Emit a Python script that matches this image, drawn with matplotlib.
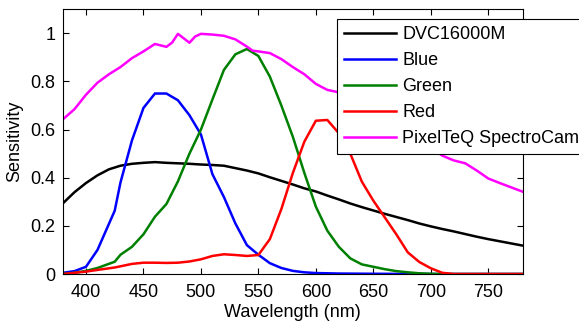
import matplotlib
matplotlib.use("Agg")
import matplotlib.pyplot as plt
import matplotlib.ticker as mticker

plt.rcParams["font.family"] = ["Liberation Sans", "DejaVu Sans"]

# DVC16000M (mono camera)
dvc_nm = [380, 390, 400, 410, 420, 430, 440, 450, 460, 470, 480, 490, 500, 510,
          520, 530, 540, 550, 560, 570, 580, 590, 600, 610, 620, 630, 640, 650,
          660, 670, 680, 690, 700, 710, 720, 730, 740, 750, 760, 770, 780]
dvc_val = [0.294, 0.34, 0.378, 0.41, 0.435, 0.45, 0.458, 0.462, 0.465, 0.462, 0.46,
           0.458, 0.455, 0.453, 0.45, 0.44, 0.43, 0.418, 0.402, 0.387, 0.372, 0.356,
           0.343, 0.326, 0.31, 0.293, 0.278, 0.264, 0.25, 0.237, 0.224, 0.21, 0.198,
           0.187, 0.177, 0.166, 0.155, 0.145, 0.136, 0.127, 0.118]

blue_nm = [380, 390, 400, 410, 425, 430, 440, 450, 460, 470, 480, 490, 500, 510,
           520, 530, 540, 550, 560, 570, 580, 590, 600, 620, 650, 700, 780]
blue_val = [0.005, 0.012, 0.03, 0.1, 0.263, 0.38, 0.555, 0.69, 0.75, 0.75, 0.722,
            0.66, 0.58, 0.415, 0.32, 0.21, 0.12, 0.08, 0.045, 0.025, 0.013, 0.007,
            0.004, 0.002, 0.001, 0.0, 0.0]

green_nm = [380, 390, 400, 410, 425, 430, 440, 450, 460, 470, 480, 490, 500, 510,
            520, 530, 540, 550, 560, 570, 580, 590, 600, 610, 620, 630, 640, 650,
            660, 670, 680, 690, 700, 710, 780]
green_val = [0.0, 0.005, 0.013, 0.025, 0.051, 0.08, 0.113, 0.165, 0.238, 0.291, 0.385,
             0.5, 0.6, 0.725, 0.848, 0.913, 0.935, 0.906, 0.82, 0.7, 0.57, 0.42, 0.28,
             0.18, 0.113, 0.065, 0.04, 0.03, 0.02, 0.012, 0.007, 0.003, 0.001, 0.0, 0.0]

red_nm = [380, 390, 400, 410, 425, 440, 450, 460, 470, 480, 490, 500, 510, 520,
          530, 540, 550, 560, 570, 580, 590, 600, 610, 620, 630, 640, 650, 660,
          670, 680, 690, 700, 710, 720, 780]
red_val = [0.0, 0.005, 0.01, 0.017, 0.027, 0.042, 0.047, 0.047, 0.046, 0.047, 0.052,
           0.061, 0.075, 0.082, 0.079, 0.075, 0.079, 0.145, 0.27, 0.42, 0.55, 0.637,
           0.64, 0.585, 0.5, 0.384, 0.305, 0.235, 0.165, 0.09, 0.05, 0.024, 0.005, 0.0, 0.0]

pixelteq_nm = [380, 390, 400, 410, 420, 430, 440, 450, 460, 470, 475, 480, 490,
               495, 500, 510, 520, 530, 540, 545, 550, 560, 570, 580, 590, 600,
               610, 620, 630, 640, 650, 660, 670, 680, 690, 700, 710, 720, 730,
               740, 750, 760, 770, 780]
pixelteq_val = [0.643, 0.685, 0.745, 0.795, 0.83, 0.86, 0.897, 0.925, 0.956, 0.944,
                0.962, 0.998, 0.961, 0.987, 0.998, 0.995, 0.99, 0.975, 0.945, 0.928,
                0.925, 0.918, 0.893, 0.86, 0.83, 0.79, 0.765, 0.755, 0.73, 0.70, 0.67,
                0.64, 0.61, 0.58, 0.555, 0.525, 0.492, 0.472, 0.46, 0.43, 0.397, 0.378,
                0.36, 0.342]

series = [
    ("DVC16000M", dvc_nm, dvc_val, "black"),
    ("Blue", blue_nm, blue_val, (0, 0, 1)),
    ("Green", green_nm, green_val, (0, 0.5, 0)),
    ("Red", red_nm, red_val, (1, 0, 0)),
    ("PixelTeQ SpectroCam", pixelteq_nm, pixelteq_val, (1, 0, 1)),
]

FS = 13

fig = plt.figure(figsize=(5.79, 3.24), dpi=100)
ax = fig.add_axes([0.1088, 0.1543, 0.794, 0.817])

for label, x, y, color in series:
    ax.plot(x, y, color=color, linewidth=1.8, label=label)

ax.set_xlim(380, 780)
ax.set_ylim(0, 1.1)
ax.set_xticks(range(400, 751, 50))
ax.set_yticks([0, 0.2, 0.4, 0.6, 0.8, 1.0])
ax.yaxis.set_major_formatter(mticker.FormatStrFormatter("%g"))
ax.tick_params(direction="in", top=True, right=True, labelsize=FS,
               length=4, width=0.8)
ax.tick_params(axis="x", pad=7)
ax.tick_params(axis="y", pad=5.5)
for s in ax.spines.values():
    s.set_linewidth(0.8)

ax.set_xlabel("Wavelength (nm)", fontsize=FS, labelpad=2.5)
ax.set_ylabel("Sensitivity", fontsize=FS, labelpad=5)

leg = ax.legend(loc="upper left", bbox_to_anchor=(0.5815, 0.940),
                bbox_transform=fig.transFigure, fontsize=FS, frameon=True,
                fancybox=False, framealpha=1, edgecolor="black",
                handlelength=2.9, handletextpad=0.35, labelspacing=0.5,
                borderpad=0.38, borderaxespad=0)
leg.get_frame().set_linewidth(0.8)

fig.savefig("out.png", dpi=100)
